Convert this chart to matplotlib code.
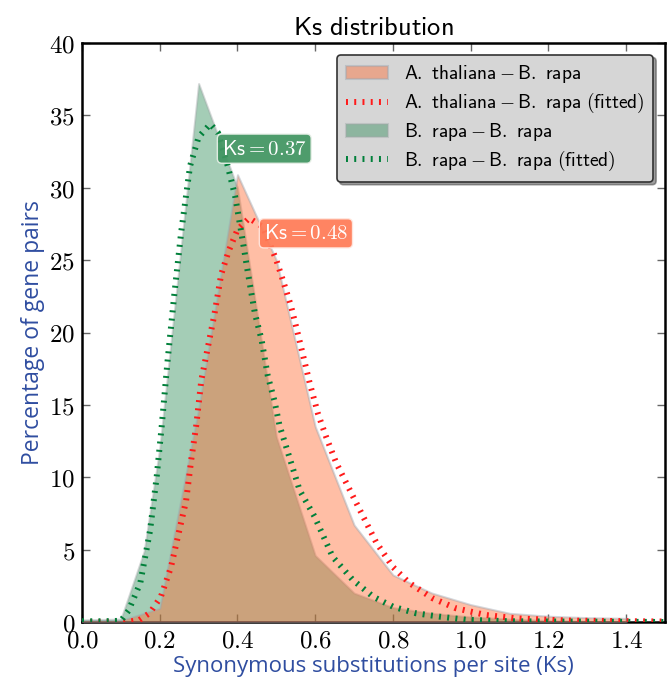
import matplotlib
matplotlib.use("Agg")
import matplotlib.pyplot as plt
from matplotlib.ticker import MultipleLocator, FuncFormatter

plt.rcParams['mathtext.fontset'] = 'cm'

# --- histogram polygons ---
at_br_x = [0.0, 0.1, 0.2, 0.3, 0.4, 0.5, 0.6, 0.7, 0.8, 0.9, 1.0, 1.1, 1.2, 1.3, 1.4]
at_br_y = [0.1, 0.1, 0.95, 14.7, 30.9, 25.0, 13.5, 6.7, 3.25, 2.0, 1.2, 0.6, 0.4, 0.3, 0.25]

br_br_x = [0.0, 0.1, 0.16, 0.2, 0.3, 0.4, 0.5, 0.6, 0.7, 0.8, 0.9, 1.0, 1.1, 1.2, 1.3, 1.4]
br_br_y = [0.15, 0.2, 4.9, 12.0, 37.2, 30.0, 12.8, 4.6, 2.0, 1.0, 0.6, 0.35, 0.2, 0.1, 0.05, 0.05]

# --- fitted curves ---
at_fit_x = [0.0, 0.12, 0.148, 0.175, 0.203, 0.229, 0.251, 0.268, 0.281, 0.294, 0.307,
            0.324, 0.341, 0.358, 0.377, 0.40, 0.43, 0.465, 0.482, 0.50, 0.517, 0.538,
            0.56, 0.585, 0.607, 0.628, 0.654, 0.68, 0.71, 0.757, 0.80, 0.842, 0.902,
            0.962, 1.04, 1.118, 1.25, 1.5]
at_fit_y = [0.0, 0.02, 0.14, 0.64, 1.75, 3.8, 6.4, 8.4, 11.2, 13.6, 16.7,
            19.0, 21.3, 24.0, 25.6, 27.1, 27.9, 27.3, 26.2, 25.0, 23.6, 21.8,
            19.4, 16.6, 14.4, 12.8, 11.0, 9.6, 8.0, 5.5, 3.8, 2.7, 1.64,
            0.95, 0.48, 0.25, 0.1, 0.03]

br_fit_x = [0.0, 0.05, 0.10, 0.12, 0.15, 0.175, 0.192, 0.205, 0.22, 0.237, 0.255,
            0.278, 0.30, 0.33, 0.35, 0.375, 0.394, 0.41, 0.427, 0.445, 0.462,
            0.478, 0.495, 0.508, 0.56, 0.598, 0.645, 0.697, 0.749, 0.80, 0.86,
            0.92, 0.99, 1.1, 1.5]
br_fit_y = [0.05, 0.05, 0.08, 0.8, 2.7, 6.3, 10.0, 13.5, 18.0, 22.5, 26.9,
            31.5, 33.5, 34.4, 33.8, 31.5, 29.4, 26.9, 24.1, 21.3, 19.5,
            17.0, 15.3, 13.6, 9.1, 7.3, 4.5, 2.9, 1.75, 1.06, 0.6,
            0.37, 0.15, 0.05, 0.0]

peaks = [0.37, 0.48]
labels = [r'$\mathsf{A.\ thaliana} - \mathsf{B.\ rapa}$',
          r'$\mathsf{A.\ thaliana} - \mathsf{B.\ rapa\ (fitted)}$',
          r'$\mathsf{B.\ rapa} - \mathsf{B.\ rapa}$',
          r'$\mathsf{B.\ rapa} - \mathsf{B.\ rapa\ (fitted)}$']

fig = plt.figure(figsize=(6.7, 6.83), dpi=100)
ax = fig.add_axes([82/670, 61/683, 583/670, 579/683])

dots = (0, (0.33, 1.05))

h1 = ax.fill_between(at_br_x, at_br_y, 0, facecolor='#ff6a30', alpha=0.43,
                     edgecolor='#9aa5b0', linewidth=1.5, zorder=3, label=labels[0])
h2, = ax.plot(at_fit_x, at_fit_y, color='#ff1a1a', lw=4.3, linestyle=dots,
              zorder=5, label=labels[1])
h3 = ax.fill_between(br_br_x, br_br_y, 0, facecolor='#2e8b57', alpha=0.43,
                     edgecolor='#a0a8a8', linewidth=1.5, zorder=2, label=labels[2])
h4, = ax.plot(br_fit_x, br_fit_y, color='#00803a', lw=4.3, linestyle=dots,
              zorder=5, label=labels[3])

ax.text(0.36, 32.7, r'$\mathsf{Ks}=%.2f$' % peaks[0], color='white', fontsize=15,
        ha='left', va='center', zorder=6,
        bbox=dict(boxstyle='round,pad=0.22', facecolor='#3f9460', edgecolor='#e8f0e8',
                  linewidth=1, alpha=0.92))
ax.text(0.468, 26.85, r'$\mathsf{Ks}=%.2f$' % peaks[1], color='white', fontsize=15,
        ha='left', va='center', zorder=6,
        bbox=dict(boxstyle='round,pad=0.22', facecolor='#ff7a55', edgecolor='#ffe8e0',
                  linewidth=1, alpha=0.92))

ax.set_xlim(0, 1.5)
ax.set_ylim(0, 40)
ax.xaxis.set_major_locator(MultipleLocator(0.2))
ax.yaxis.set_major_locator(MultipleLocator(5))
ax.xaxis.set_major_formatter(FuncFormatter(lambda v, p: r'$%.1f$' % v))
ax.yaxis.set_major_formatter(FuncFormatter(lambda v, p: r'$%d$' % round(v)))
ax.tick_params(direction='in', top=True, right=True, length=6, width=1,
               color='#666666', labelsize=18, pad=5)
for s in ax.spines.values():
    s.set_linewidth(1.8)
    s.set_color('black')

ax.set_title(r'$\mathsf{Ks\ distribution}$', fontsize=19, pad=6)
ax.set_xlabel('Synonymous substitutions per site (Ks)', family='Open Sans',
              fontsize=16, color='#2f4da0', labelpad=2)
ax.set_ylabel('Percentage of gene pairs', family='Open Sans',
              fontsize=16.5, color='#2f4da0', labelpad=3)

leg = ax.legend(handles=[h1, h2, h3, h4], loc='upper right', fontsize=14,
                fancybox=True, shadow=True, framealpha=1, facecolor='#d6d6d6',
                edgecolor='#333333', handlelength=2.2, borderpad=0.45,
                labelspacing=0.3, borderaxespad=0.6)
leg.get_frame().set_linewidth(1.2)
leg.set_zorder(10)

fig.savefig('out.png', dpi=100)
